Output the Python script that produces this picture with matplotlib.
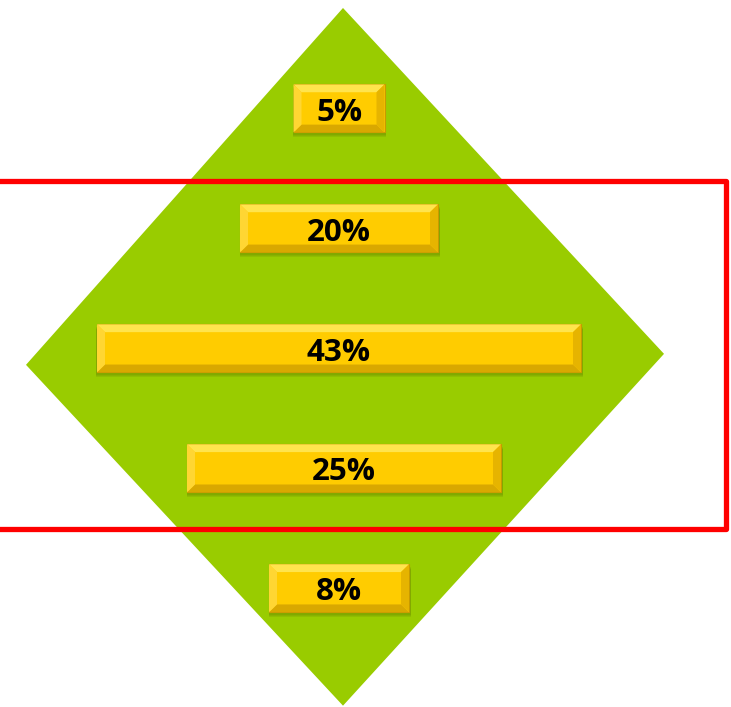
import matplotlib
matplotlib.use("Agg")
import matplotlib.pyplot as plt
import numpy as np
from matplotlib.patches import Polygon

# ---- data ----
labels = ["5%", "20%", "43%", "25%", "8%"]
values = [5, 20, 43, 25, 8]
# visual bar lengths (arbitrary units)
bar_lengths = [9.1, 19.8, 48.4, 31.4, 14.0]
bar_centers = [0.0, 0.0, 0.0, 0.5, 0.0]

GREEN = "#99CC00"
GOLD = "#FFCC00"
RED = "#FF0000"

fig = plt.figure(figsize=(7.31, 7.07), dpi=100)
ax = fig.add_axes([0, 0, 1, 1])
ax.set_xlim(-33.9, 39.2)
ax.set_ylim(4.99, -0.904)
ax.axis("off")

# diamond background
diamond = Polygon([(0.4, -0.8375), (32.5, 2.046), (0.4, 4.979), (-31.3, 2.1375)],
                  closed=True, facecolor=GREEN, edgecolor="none", zorder=1)
ax.add_patch(diamond)

# red rectangle
rx = [-40, 38.7, 38.7, -40]
ry = [0.604, 0.604, 3.504, 3.504]
ax.plot(rx, ry, color=RED, lw=3.8, solid_joinstyle="round", zorder=2)

y_pos = np.arange(len(values))
lefts = [c - w / 2 for c, w in zip(bar_centers, bar_lengths)]
h = 0.4

# shadows
for i in range(len(values)):
    for k, a in enumerate([0.10, 0.10, 0.12]):
        ax.barh(y_pos[i] + 0.025 + k * 0.008, bar_lengths[i] + 0.2, left=lefts[i] - 0.1 + 0.05,
                height=h, color="#4a5a00", alpha=a, zorder=3)

ax.barh(y_pos, bar_lengths, left=lefts, height=h, color=GOLD,
        edgecolor="#C89A00", linewidth=0.8, zorder=4)

# bevels
bx = 0.8
by = 0.065
for i in range(len(values)):
    x0 = lefts[i]
    x1 = x0 + bar_lengths[i]
    y0 = y_pos[i] - h / 2
    y1 = y_pos[i] + h / 2
    top = Polygon([(x0, y0), (x1, y0), (x1 - bx, y0 + by), (x0 + bx, y0 + by)],
                  facecolor="#FFE44D", edgecolor="none", zorder=5)
    bot = Polygon([(x0, y1), (x1, y1), (x1 - bx, y1 - by), (x0 + bx, y1 - by)],
                  facecolor="#D9A800", edgecolor="none", zorder=5)
    lft = Polygon([(x0, y0), (x0 + bx, y0 + by), (x0 + bx, y1 - by), (x0, y1)],
                  facecolor="#FFD633", edgecolor="none", zorder=5)
    rgt = Polygon([(x1, y0), (x1 - bx, y0 + by), (x1 - bx, y1 - by), (x1, y1)],
                  facecolor="#E6B400", edgecolor="none", zorder=5)
    for p in (top, bot, lft, rgt):
        ax.add_patch(p)
    ax.text(bar_centers[i], y_pos[i] + 0.035, labels[i], ha="center", va="center",
            fontsize=22.5, fontweight="bold", family=["Open Sans", "DejaVu Sans"],
            color="black", zorder=6)

fig.savefig("out.png", dpi=100)
